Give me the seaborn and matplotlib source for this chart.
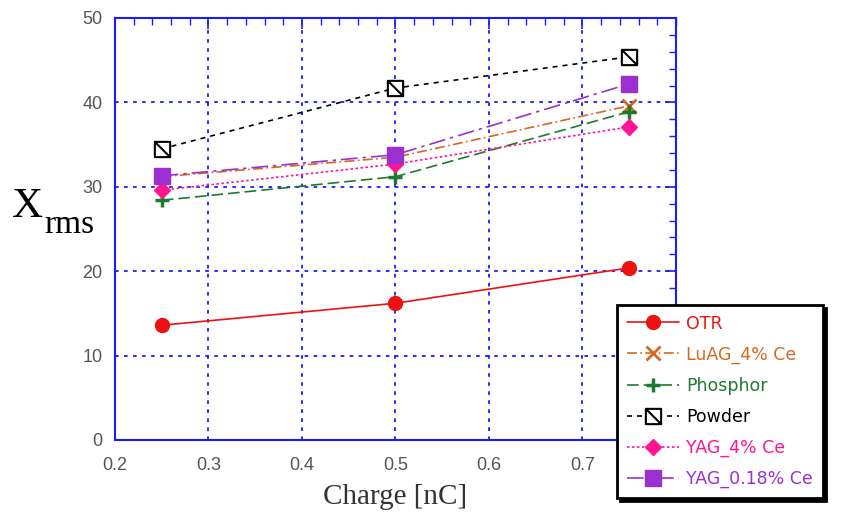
import numpy as np
import pandas as pd
import matplotlib
matplotlib.use("Agg")
import matplotlib.pyplot as plt
import seaborn as sns
from matplotlib.path import Path

charge = [0.25, 0.5, 0.75]
otr = [13.6, 16.2, 20.4]
luag = [31.2, 33.5, 39.6]
phosphor = [28.4, 31.2, 38.9]
powder = [34.5, 41.7, 45.4]
yag4 = [29.6, 32.7, 37.1]
yag018 = [31.3, 33.8, 42.2]

series_names = ["OTR", "LuAG_4% Ce", "Phosphor", "Powder", "YAG_4% Ce", "YAG_0.18% Ce"]
series_vals = [otr, luag, phosphor, powder, yag4, yag018]

sns.set_style("white")
plt.rcParams['font.family'] = ['Liberation Sans', 'DejaVu Sans']

fig = plt.figure(figsize=(8.43, 5.17), dpi=100)
ax = fig.add_axes([115/843, 77/517, (676-115)/843, (440-18)/517])

sq_diag = Path([(-1, -1), (1, -1), (1, 1), (-1, 1), (-1, -1), (-1, 1), (1, -1)],
               [Path.MOVETO, Path.LINETO, Path.LINETO, Path.LINETO, Path.CLOSEPOLY,
                Path.MOVETO, Path.LINETO])

styles = {
    "OTR": dict(color="#ee1111", ls="-", marker="o", ms=10, mfc="#ee1111", mec="#ee1111", mew=1),
    "LuAG_4% Ce": dict(color="#d2691e", ls=(0, (6, 2, 1, 2)), marker="x", ms=10, mfc="#d2691e", mec="#d2691e", mew=2),
    "Phosphor": dict(color="#1e7a2e", ls=(0, (7, 3)), marker="+", ms=10, mfc="#1e7a2e", mec="#1e7a2e", mew=2.5),
    "Powder": dict(color="black", ls=(0, (3, 3)), marker=sq_diag, ms=11, mfc="white", mec="black", mew=1.5),
    "YAG_4% Ce": dict(color="#ff1493", ls=(0, (1.5, 1.5)), marker="D", ms=8, mfc="#ff1493", mec="#ff1493", mew=1),
    "YAG_0.18% Ce": dict(color="#9b30d0", ls=(0, (10, 3, 2, 3)), marker="s", ms=12, mfc="#9b30d0", mec="#9b30d0", mew=1),
}

for name, vals in zip(series_names, series_vals):
    st = styles[name]
    df = pd.DataFrame({"x": charge, "y": vals})
    sns.lineplot(data=df, x="x", y="y", ax=ax, color=st["color"], linestyle=st["ls"],
                 linewidth=1.2, marker=st["marker"], markersize=st["ms"],
                 markerfacecolor=st["mfc"], markeredgecolor=st["mec"], markeredgewidth=st["mew"],
                 label=name, zorder=3)

ax.set_xlim(0.2, 0.8)
ax.set_ylim(0, 50)
ax.set_xticks([0.2, 0.3, 0.4, 0.5, 0.6, 0.7])
ax.set_xticks(np.arange(0.2, 0.8001, 0.02), minor=True)
ax.set_yticks([0, 10, 20, 30, 40, 50])
ax.set_yticks(np.arange(0, 50.01, 2), minor=True)
ax.set_xticklabels(["0.2", "0.3", "0.4", "0.5", "0.6", "0.7"])
blue = "#1a1aff"
for s in ax.spines.values():
    s.set_color(blue)
    s.set_linewidth(1.5)
ax.tick_params(which="both", direction="in", colors=blue, top=True, right=True,
               labelcolor="#555555", labelsize=13)
ax.tick_params(which="major", length=8, width=1.2)
ax.tick_params(which="minor", length=5, width=1)
ax.tick_params(axis="x", which="major", pad=12)
ax.tick_params(axis="y", which="major", pad=9)
ax.grid(True, which="major", color=blue, linestyle=(0, (2, 3)), linewidth=1.3)

ax.set_xlabel("Charge [nC]", family="Liberation Serif", fontsize=21, color="#333333")
ax.xaxis.set_label_coords(0.5, -(484 - 440) / 422)
ax.set_ylabel("")
fig.text(12/843, 1 - 217/517, "X", family="Liberation Serif",
         fontsize=31, color="black", va="baseline", ha="left")
fig.text(44/843, 1 - 233/517, "rms", family="Liberation Serif",
         fontsize=24, color="black", va="baseline", ha="left")

leg = ax.legend(loc="upper left", bbox_to_anchor=(617/843, 1 - 305/517), bbox_transform=fig.transFigure,
                frameon=True, fancybox=False, shadow={"color": "black", "alpha": 1},
                prop={"family": "DejaVu Sans", "size": 12.5}, labelspacing=0.75,
                handlelength=3.0, handletextpad=0.45, borderpad=0.55, borderaxespad=0)
leg.get_frame().set_edgecolor("black")
leg.get_frame().set_linewidth(2)
for txt, name in zip(leg.get_texts(), series_names):
    txt.set_color(styles[name]["color"])

fig.savefig("out.png", dpi=100)
